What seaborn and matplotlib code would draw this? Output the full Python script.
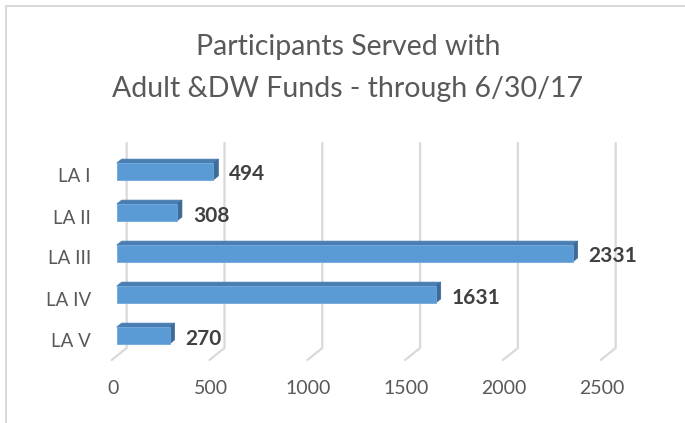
import matplotlib
matplotlib.use("Agg")
import matplotlib.pyplot as plt
import seaborn as sns
import pandas as pd
import numpy as np
from matplotlib.patches import Polygon, Rectangle
from matplotlib.transforms import ScaledTranslation

regions = ["LA I", "LA II", "LA III", "LA IV", "LA V"]
participants = [494, 308, 2331, 1631, 270]
x_ticks = [0, 500, 1000, 1500, 2000, 2500]
title = "Participants Served with\nAdult &DW Funds - through 6/30/17"

FRONT = "#5B9BD5"
TOP = "#4A7EB3"
SIDE = "#3D6A99"
GRID = "#D9D9D9"
TEXT = "#595959"
LABEL = "#404040"

sns.set_theme(style="white")
plt.rcParams["font.family"] = ["Lato", "DejaVu Sans"]

df = pd.DataFrame({"region": regions, "participants": participants})

DPI = 100
fig = plt.figure(figsize=(6.85, 4.23), dpi=DPI)
W, H = 685, 423
ax = fig.add_axes([116.7 / W, (H - 356) / H, 489 / W, 205 / H])

sns.barplot(data=df, x="participants", y="region", orient="h", width=0.41,
            color=FRONT, saturation=1, edgecolor="#6FA8DC", linewidth=0.6,
            ax=ax, zorder=3)
ax.set_xlim(0, 2500)
ax.set_ylim(4.5, -0.5)
ax.set_xlabel("")
ax.set_ylabel("")
sns.despine(ax=ax, left=True, bottom=True)
ax.tick_params(length=0)

# depth offsets in pixels (display coords, y up)
bar_back = (5, 4)
wall = (10, 8)
floor = (-5, -4)


def shift(x, y, d):
    p = ax.transData.transform((x, y)) + np.array(d)
    return ax.transData.inverted().transform(p)


# back-wall gridlines with floor diagonal
for v in x_ticks:
    top = shift(v, -0.5, wall)
    bot = shift(v, 4.5, wall)
    front = shift(v, 4.5, floor)
    ax.plot([top[0], bot[0], front[0]], [top[1], bot[1], front[1]],
            color=GRID, lw=1.6, zorder=1, clip_on=False, solid_joinstyle="miter")

# 3D faces for each bar
for patch in ax.patches:
    x0, y0 = patch.get_x(), patch.get_y()
    x1, y1 = x0 + patch.get_width(), y0 + patch.get_height()
    ytop = min(y0, y1)
    ybot = max(y0, y1)
    top_face = [(x0, ytop), (x1, ytop), shift(x1, ytop, bar_back), shift(x0, ytop, bar_back)]
    side_face = [(x1, ytop), shift(x1, ytop, bar_back), shift(x1, ybot, bar_back), (x1, ybot)]
    ax.add_patch(Polygon(top_face, closed=True, facecolor=TOP, edgecolor=TOP,
                         lw=0.5, zorder=2.5, clip_on=False))
    ax.add_patch(Polygon(side_face, closed=True, facecolor=SIDE, edgecolor=SIDE,
                         lw=0.5, zorder=2.5, clip_on=False))

# value labels
for i, v in enumerate(participants):
    ax.annotate(f"{v}", xy=(v, i), xytext=(16, -3), textcoords="offset pixels",
                ha="left", va="center", fontsize=15, fontweight="bold",
                color=LABEL, zorder=4)

ax.set_xticks(x_ticks)
ax.set_xticklabels([str(t) for t in x_ticks])
ax.tick_params(axis="x", pad=17, labelsize=14, labelcolor=TEXT)
ax.tick_params(axis="y", pad=15, labelsize=13.5, labelcolor=TEXT)
for lab in ax.get_xticklabels():
    lab.set_transform(lab.get_transform() + ScaledTranslation(-4 / DPI, 0, fig.dpi_scale_trans))
for lab in ax.get_yticklabels():
    lab.set_transform(lab.get_transform() + ScaledTranslation(-5 / DPI, -4 / DPI, fig.dpi_scale_trans))

fig.text(348 / W, 1 - 68 / H, title, ha="center", va="center", fontsize=20.5,
         color=TEXT, linespacing=1.75)

# chart-area border
fig.add_artist(Rectangle((6 / W, -0.1), 1.2, (H - 6) / H + 0.1, transform=fig.transFigure,
                         fill=False, edgecolor=GRID, lw=1.5))

fig.savefig("out.png", dpi=DPI, facecolor="white")
